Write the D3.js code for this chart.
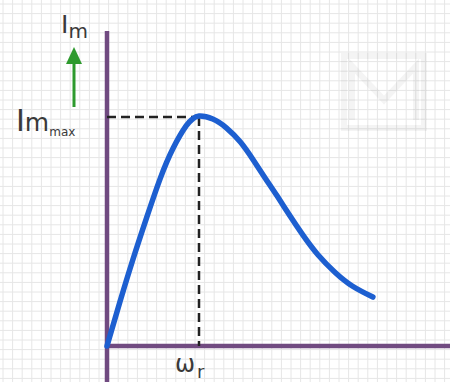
<!DOCTYPE html>
<html>
<head>
<meta charset="utf-8">
<script src="https://cdn.jsdelivr.net/npm/d3@7"></script>
<style>
  body { margin: 0; background: #fff; }
  svg text { font-family: "DejaVu Sans", sans-serif; fill: #3a3a3a; }
</style>
</head>
<body>
<div id="chart"></div>
<script>
// resonance curve: current vs angular frequency (w in units of w_r, I in units of I_max)
var omega   = [0, 0.14, 0.28, 0.43, 0.58, 0.72, 0.86, 0.93, 1.0, 1.15, 1.30, 1.45, 1.59, 1.72, 1.85, 1.99, 2.13, 2.29, 2.48, 2.67, 2.89];
var current = [0, 0.191, 0.374, 0.557, 0.730, 0.861, 0.957, 0.987, 1.0, 0.987, 0.948, 0.887, 0.809, 0.730, 0.652, 0.565, 0.482, 0.398, 0.320, 0.260, 0.213];
var peakOmega = 1.0;
var peakCurrent = 1.0;

var width = 450, height = 382;
var svg = d3.select('#chart').append('svg')
    .attr('width', width)
    .attr('height', height);

// graph paper background
var gridStep = 9.6;
var grid = svg.append('g').attr('stroke', '#e6e6e6').attr('stroke-width', 1);
grid.selectAll('line.v').data(d3.range(3, width, gridStep)).enter().append('line')
    .attr('x1', function(d){ return d; }).attr('x2', function(d){ return d; })
    .attr('y1', 0).attr('y2', height);
grid.selectAll('line.h').data(d3.range(4, height, gridStep)).enter().append('line')
    .attr('y1', function(d){ return d; }).attr('y2', function(d){ return d; })
    .attr('x1', 0).attr('x2', width);

// faint watermark
var wm = svg.append('g').attr('opacity', 0.04).attr('fill', 'none').attr('stroke', '#000').attr('stroke-width', 6);
wm.append('rect').attr('x', 344).attr('y', 56).attr('width', 80).attr('height', 72);
wm.append('path').attr('d', 'M352,120V66L384,100L416,66V120');

var x = d3.scaleLinear().domain([0, 3.75]).range([107, 452]);
var y = d3.scaleLinear().domain([0, 1.37]).range([346, 31]);

//axes (no ticks, just the purple lines)
var axisColor = '#704a80';
var xAxis = svg.append('g')
    .attr('transform', 'translate(0,' + y(0) + ')')
    .call(d3.axisBottom(x).tickValues([]).tickSizeOuter(0));
xAxis.select('.domain').attr('stroke', axisColor).attr('stroke-width', 4.5)
    .attr('d', 'M' + (x(0) - 2) + ',0H' + width);

var yAxis = svg.append('g')
    .attr('transform', 'translate(' + x(0) + ',0)')
    .call(d3.axisLeft(y).tickValues([]).tickSizeOuter(0));
yAxis.select('.domain').attr('stroke', axisColor).attr('stroke-width', 4.5)
    .attr('d', 'M0,' + y(1.37) + 'V' + height);

//dashed guides to the peak
svg.append('line')
    .attr('x1', x(0)).attr('x2', x(peakOmega))
    .attr('y1', y(peakCurrent) + 1).attr('y2', y(peakCurrent) + 1)
    .attr('stroke', '#222').attr('stroke-width', 2.5).attr('stroke-dasharray', '9,5');
svg.append('line')
    .attr('x1', x(peakOmega)).attr('x2', x(peakOmega))
    .attr('y1', y(peakCurrent) + 1).attr('y2', y(0))
    .attr('stroke', '#222').attr('stroke-width', 2.5).attr('stroke-dasharray', '9,5');

//curve
var line = d3.line()
    .x(function(d, i){ return x(omega[i]); })
    .y(function(d){ return y(d); })
    .curve(d3.curveNatural);
svg.append('path')
    .datum(current)
    .attr('d', line)
    .attr('fill', 'none')
    .attr('stroke', '#1d5fd0')
    .attr('stroke-width', 5.5)
    .attr('stroke-linecap', 'round');

//labels
var im = svg.append('text').attr('x', 61).attr('y', 33);
im.append('tspan').attr('font-size', 25).text('I');
im.append('tspan').attr('font-size', 20).attr('dy', 5).text('m');

var imax = svg.append('text').attr('x', 16).attr('y', y(peakCurrent) + 15);
imax.append('tspan').attr('font-size', 30).text('I');
imax.append('tspan').attr('font-size', 25).text('m');
imax.append('tspan').attr('font-size', 12).attr('dy', 5).text('max');

var wr = svg.append('text').attr('x', x(peakOmega) - 24).attr('y', 372);
wr.append('tspan').attr('font-size', 24).text('ω');
wr.append('tspan').attr('font-size', 18).attr('dy', 6).attr('dx', 2).text('r');

//green arrow
svg.append('line')
    .attr('x1', 74).attr('x2', 74).attr('y1', 107).attr('y2', 60)
    .attr('stroke', '#2e9a2e').attr('stroke-width', 3);
svg.append('path')
    .attr('d', 'M66,64L74,47L82,64Z')
    .attr('fill', '#2e9a2e');
</script>
</body>
</html>
